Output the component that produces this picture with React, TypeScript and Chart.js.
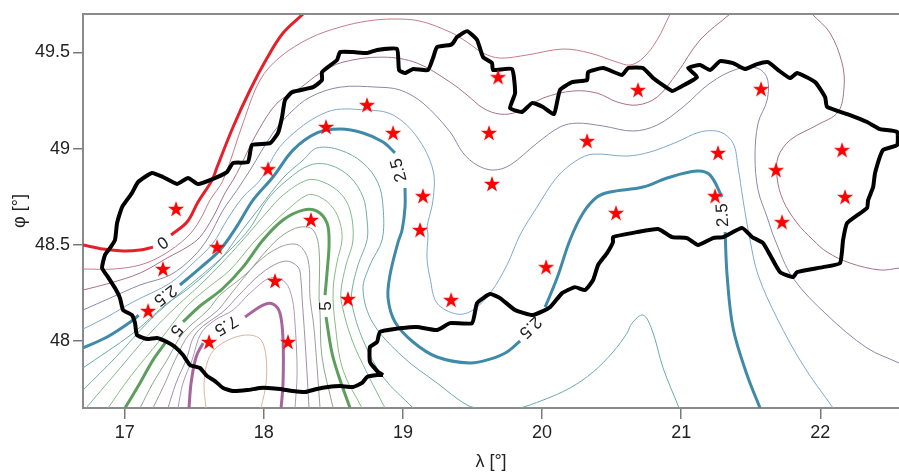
import React, { useEffect, useRef } from "react";
import { Chart, registerables } from "chart.js";

Chart.register(...registerables);

type P = [number, number];

const xTicksStep = 1;
const yTicksStep = 0.5;
const lonRange = [16.7, 22.566];
const latRange = [47.652, 49.699];

const level0a: P[] = [[16.7,48.499],[16.844,48.478],[16.988,48.468],[17.11,48.473],[17.203,48.488]];
const level0b: P[] = [[17.333,48.551],[17.448,48.618],[17.527,48.722],[17.628,48.836],[17.664,48.904],[17.779,49.112],[17.901,49.304],[18.023,49.47],[18.138,49.6],[18.282,49.699]];
const level05: P[] = [[16.7,48.374],[16.916,48.374],[17.11,48.395],[17.275,48.447],[17.448,48.54],[17.541,48.629],[17.613,48.732],[17.707,48.836],[17.85,49.132],[17.973,49.356],[18.116,49.475],[18.332,49.574],[18.548,49.631],[18.742,49.662],[18.929,49.673],[19.123,49.662],[19.339,49.605],[19.461,49.553],[19.576,49.496],[19.698,49.47],[19.892,49.486],[20.151,49.517],[20.345,49.496],[20.539,49.449],[20.633,49.434],[20.726,49.47],[20.827,49.564],[20.92,49.699]];
const level1a: P[] = [[16.7,48.265],[16.894,48.301],[17.11,48.353],[17.304,48.431],[17.448,48.488],[17.541,48.54],[17.635,48.644],[17.721,48.769],[17.779,48.836],[17.829,48.904],[17.951,49.081],[18.095,49.236],[18.26,49.314],[18.404,49.392],[18.569,49.449],[18.857,49.475],[19.101,49.444],[19.339,49.345],[19.461,49.278],[19.576,49.21],[19.698,49.179],[19.82,49.19],[20.007,49.262],[20.223,49.299],[20.395,49.288],[20.539,49.242],[20.683,49.226],[20.827,49.267],[20.97,49.392],[21.136,49.564],[21.351,49.699]];
const level1b: P[] = [[21.941,49.699],[22.07,49.6],[22.157,49.444],[22.171,49.319],[22.128,49.19],[21.977,49.122],[21.783,49.044],[21.697,48.956],[21.689,48.852],[21.732,48.732],[21.833,48.613],[21.948,48.525],[22.049,48.462],[22.214,48.405],[22.43,48.369],[22.566,48.379]];
const level15: P[] = [[16.7,48.161],[16.894,48.223],[17.11,48.291],[17.326,48.343],[17.491,48.436],[17.599,48.535],[17.707,48.68],[17.807,48.784],[17.901,48.888],[18.066,49.081],[18.188,49.184],[18.332,49.267],[18.548,49.319],[18.814,49.319],[18.979,49.304],[19.144,49.236],[19.339,49.086],[19.432,48.977],[19.533,48.914],[19.648,48.888],[19.77,48.914],[19.964,49.028],[20.129,49.112],[20.252,49.132],[20.439,49.117],[20.654,49.091],[20.827,49.122],[21.014,49.216],[21.208,49.34],[21.402,49.413],[21.546,49.418],[21.618,49.366],[21.618,49.252],[21.553,49.132],[21.531,48.956],[21.553,48.784],[21.618,48.644],[21.675,48.525],[21.804,48.327],[22.049,48.135],[22.336,47.964],[22.566,47.886]];
const level2: P[] = [[16.7,48.062],[16.873,48.125],[17.06,48.203],[17.326,48.301],[17.491,48.405],[17.635,48.509],[17.735,48.629],[17.85,48.748],[17.973,48.836],[18.138,49.028],[18.454,49.19],[18.742,49.2],[18.929,49.174],[19.101,49.06],[19.216,48.888],[19.216,48.732],[19.173,48.592],[19.18,48.551],[19.173,48.431],[19.195,48.327],[19.245,48.197],[19.389,48.14],[19.504,48.161],[19.633,48.255],[19.748,48.395],[19.842,48.551],[19.964,48.696],[20.108,48.852],[20.252,48.94],[20.367,48.971],[20.611,48.961],[20.776,48.982],[20.97,49.034],[21.136,49.086],[21.28,49.086],[21.373,49.028],[21.409,48.904],[21.445,48.732],[21.495,48.525],[21.553,48.343],[21.689,48.119],[21.876,47.875],[22.092,47.652]];
const level25a: P[] = [[16.7,47.964],[16.873,48.021],[17.06,48.109],[17.1,48.135]];
const level25b: P[] = [[17.397,48.291],[17.541,48.379],[17.685,48.473],[17.807,48.597],[17.922,48.732],[18.066,48.852],[18.21,48.992],[18.382,49.081],[18.548,49.101],[18.713,49.081],[18.857,49.034],[18.943,48.977]];
const level25c: P[] = [[19.015,48.795],[19.015,48.696],[18.994,48.577],[18.965,48.514],[18.907,48.343],[18.893,48.223],[18.943,48.099],[19.073,47.995],[19.245,47.917],[19.482,47.886],[19.626,47.906],[19.748,47.943],[19.842,48.0]];
const level25d: P[] = [[20.022,48.176],[20.108,48.327],[20.201,48.525],[20.295,48.665],[20.395,48.748],[20.489,48.774],[20.726,48.8],[20.899,48.847],[21.114,48.883],[21.208,48.862],[21.294,48.748]];
const level25e: P[] = [[21.316,48.566],[21.33,48.343],[21.373,48.068],[21.474,47.823],[21.567,47.652]];
const level3: P[] = [[16.7,47.86],[17.06,48.041],[17.29,48.187],[17.47,48.28],[17.685,48.421],[17.829,48.561],[17.973,48.696],[18.138,48.847],[18.282,48.94],[18.382,49.003],[18.548,48.992],[18.713,48.925],[18.821,48.821],[18.857,48.696],[18.85,48.525],[18.763,48.395],[18.713,48.265],[18.785,48.093],[19.001,47.917],[19.245,47.782],[19.461,47.667],[19.576,47.647],[19.698,47.631],[19.82,47.647],[20.007,47.693],[20.201,47.756],[20.367,47.839],[20.51,47.943],[20.611,48.041],[20.647,48.093],[20.726,48.135],[20.791,48.057],[20.87,47.86],[20.985,47.652]];
const level35: P[] = [[16.7,47.745],[16.937,47.917],[17.182,48.109],[17.398,48.249],[17.613,48.379],[17.757,48.473],[17.901,48.587],[18.023,48.732],[18.167,48.836],[18.332,48.914],[18.476,48.914],[18.62,48.852],[18.713,48.748],[18.742,48.629],[18.742,48.525],[18.677,48.395],[18.634,48.265],[18.634,48.187],[18.713,48.005],[18.857,47.813],[19.073,47.652]];
const level4: P[] = [[16.722,47.652],[16.937,47.834],[17.182,48.041],[17.383,48.187],[17.541,48.291],[17.685,48.395],[17.85,48.525],[18.023,48.67],[18.138,48.758],[18.311,48.836],[18.426,48.826],[18.548,48.769],[18.62,48.68],[18.641,48.525],[18.591,48.395],[18.555,48.265],[18.562,48.187],[18.634,48.005],[18.742,47.834],[18.871,47.652]];
const level45: P[] = [[16.88,47.652],[17.038,47.813],[17.254,48.005],[17.441,48.176],[17.577,48.265],[17.757,48.369],[17.922,48.509],[18.066,48.613],[18.167,48.68],[18.311,48.758],[18.404,48.748],[18.498,48.691],[18.548,48.613],[18.562,48.525],[18.526,48.41],[18.498,48.265],[18.512,48.093],[18.569,47.849],[18.706,47.652]];
const level5a: P[] = [[17.002,47.652],[17.11,47.782],[17.203,47.901],[17.297,47.995]];
const level5b: P[] = [[17.419,48.099],[17.541,48.182],[17.699,48.269],[17.85,48.384],[17.994,48.525],[18.138,48.629],[18.282,48.68],[18.382,48.675],[18.454,48.613],[18.469,48.509],[18.454,48.353],[18.44,48.239]];
const level5c: P[] = [[18.447,48.125],[18.49,47.938],[18.548,47.797],[18.62,47.652]];
const level55: P[] = [[17.11,47.652],[17.203,47.782],[17.304,47.901],[17.419,48.041],[17.599,48.161],[17.685,48.239],[17.879,48.353],[18.023,48.473],[18.138,48.551],[18.26,48.592],[18.354,48.577],[18.397,48.473],[18.397,48.223],[18.404,48.145],[18.418,47.917],[18.498,47.652]];
const level6: P[] = [[17.203,47.652],[17.29,47.782],[17.362,47.901],[17.47,48.041],[17.671,48.161],[17.757,48.239],[17.951,48.405],[18.116,48.488],[18.246,48.499],[18.318,48.421],[18.332,48.223],[18.354,48.109],[18.368,48.005],[18.404,47.652]];
const level65: P[] = [[17.311,47.652],[17.369,47.782],[17.441,47.901],[17.513,48.041],[17.721,48.161],[17.807,48.228],[17.994,48.358],[18.152,48.415],[18.246,48.384],[18.267,48.317],[18.275,48.223],[18.296,48.005],[18.325,47.652]];
const level7: P[] = [[17.383,47.652],[17.419,47.782],[17.484,47.901],[17.549,48.041],[17.649,48.109],[17.779,48.161],[17.901,48.249],[18.045,48.327],[18.152,48.306],[18.203,48.223],[18.224,48.093],[18.239,47.834],[18.224,47.652]];
const level75a: P[] = [[17.462,47.652],[17.477,47.782],[17.513,47.917],[17.563,47.989]];
const level75b: P[] = [[17.865,48.125],[17.994,48.187],[18.066,48.192],[18.116,48.145],[18.138,48.005],[18.138,47.782],[18.124,47.652]];
const level8: P[] = [[17.584,47.652],[17.57,47.782],[17.599,47.901],[17.656,47.964],[17.779,48.016],[17.901,48.031],[17.98,48.005],[18.016,47.917],[18.016,47.782],[17.98,47.652]];

const border: P[] = [[18.857,47.823],[18.814,47.823],[18.742,47.813],[18.706,47.782],[18.641,47.761],[18.548,47.766],[18.462,47.761],[18.382,47.751],[18.296,47.735],[18.21,47.74],[18.116,47.751],[18.03,47.756],[17.973,47.756],[17.879,47.745],[17.779,47.74],[17.707,47.756],[17.649,47.792],[17.592,47.818],[17.541,47.86],[17.47,47.875],[17.419,47.927],[17.362,47.969],[17.304,47.995],[17.232,48.016],[17.16,48.01],[17.088,48.031],[17.074,48.093],[17.052,48.135],[16.988,48.161],[16.966,48.223],[16.93,48.275],[16.88,48.332],[16.837,48.379],[16.858,48.447],[16.894,48.483],[16.93,48.525],[16.945,48.613],[16.981,48.696],[17.052,48.769],[17.096,48.826],[17.196,48.873],[17.275,48.852],[17.376,48.816],[17.455,48.847],[17.527,48.816],[17.613,48.836],[17.735,48.878],[17.779,48.925],[17.886,48.93],[17.915,49.018],[18.045,49.028],[18.102,49.081],[18.131,49.164],[18.152,49.252],[18.203,49.293],[18.354,49.319],[18.418,49.356],[18.418,49.397],[18.526,49.46],[18.548,49.501],[18.641,49.501],[18.742,49.496],[18.814,49.512],[18.957,49.517],[18.972,49.408],[19.015,49.392],[19.073,49.413],[19.18,49.408],[19.216,49.47],[19.245,49.527],[19.339,49.538],[19.36,49.548],[19.389,49.579],[19.461,49.61],[19.533,49.564],[19.576,49.475],[19.64,49.444],[19.648,49.408],[19.784,49.413],[19.806,49.288],[19.77,49.21],[19.856,49.19],[19.928,49.236],[20.007,49.216],[20.086,49.179],[20.129,49.304],[20.216,49.345],[20.324,49.356],[20.331,49.397],[20.439,49.418],[20.575,49.382],[20.618,49.418],[20.726,49.418],[20.798,49.366],[20.848,49.34],[20.935,49.299],[20.992,49.319],[21.114,49.371],[21.05,49.418],[21.136,49.434],[21.208,49.408],[21.28,49.454],[21.373,49.444],[21.459,49.413],[21.546,49.439],[21.625,49.449],[21.697,49.408],[21.783,49.366],[21.833,49.392],[21.963,49.345],[22.035,49.267],[22.049,49.216],[22.214,49.174],[22.336,49.138],[22.43,49.101],[22.552,49.086],[22.552,49.018],[22.451,48.992],[22.394,48.873],[22.38,48.8],[22.344,48.732],[22.336,48.691],[22.193,48.613],[22.164,48.525],[22.142,48.405],[22.02,48.384],[21.833,48.358],[21.804,48.332],[21.711,48.358],[21.639,48.447],[21.589,48.509],[21.51,48.54],[21.438,48.587],[21.301,48.54],[21.229,48.535],[21.121,48.499],[21.042,48.535],[20.935,48.54],[20.834,48.582],[20.683,48.566],[20.51,48.54],[20.51,48.514],[20.467,48.457],[20.403,48.395],[20.367,48.317],[20.309,48.265],[20.237,48.28],[20.144,48.249],[20.058,48.176],[19.935,48.135],[19.806,48.161],[19.698,48.223],[19.626,48.244],[19.533,48.197],[19.497,48.093],[19.339,48.093],[19.245,48.057],[19.101,48.073],[19.001,48.068],[18.835,48.047],[18.814,47.995],[18.763,47.969],[18.763,47.891],[18.821,47.839],[18.857,47.823]];

const stations: P[] = [[17.369,48.686],[17.664,48.488],[17.275,48.374],[17.168,48.156],[17.606,47.995],[18.174,47.995],[18.08,48.312],[18.339,48.629],[18.03,48.893],[18.447,49.112],[18.742,49.226],[18.929,49.081],[19.144,48.753],[19.123,48.577],[18.605,48.218],[19.346,48.213],[19.64,48.816],[19.619,49.081],[19.684,49.371],[20.69,49.304],[20.324,49.039],[20.532,48.665],[21.265,48.977],[21.244,48.753],[21.574,49.309],[21.682,48.888],[21.725,48.618],[22.157,48.992],[22.178,48.748],[20.029,48.384]];

const labelTexts = ["0", "2.5", "5", "7.5", "5", "2.5", "2.5", "2.5"];
const labelLon = [17.268, 17.29, 17.369, 17.728, 18.447, 18.972, 19.914, 21.301];
const labelLat = [48.514, 48.239, 48.057, 48.083, 48.182, 48.888, 48.073, 48.654];
const labelAngle = [145, 143, 130, 150, -90, -105, 137, -93];

const contourLines: [P[], string, number][] = [
  [level0a, "#e6202a", 3], [level0b, "#e6202a", 3],
  [level05, "#c97a88", 1], [level1a, "#a8708a", 1], [level1b, "#a8708a", 1],
  [level15, "#8f85ab", 1], [level2, "#7fa8d0", 1],
  [level25a, "#3f8aa8", 3], [level25b, "#3f8aa8", 3], [level25c, "#3f8aa8", 3], [level25d, "#3f8aa8", 3], [level25e, "#3f8aa8", 3],
  [level3, "#6aa9ad", 1], [level35, "#74b09a", 1], [level4, "#80b98c", 1], [level45, "#86bc82", 1],
  [level5a, "#5c9e5c", 3], [level5b, "#5c9e5c", 3], [level5c, "#5c9e5c", 3],
  [level55, "#8fa58f", 1], [level6, "#9d9d9d", 1], [level65, "#a090a8", 1], [level7, "#b394c0", 1],
  [level75a, "#a8659c", 3], [level75b, "#a8659c", 3], [level8, "#d9b49c", 1],
];

const FONT = "'Liberation Sans', Arial, sans-serif";

function starImage(): HTMLCanvasElement {
  const c = document.createElement("canvas");
  c.width = 18;
  c.height = 18;
  const g = c.getContext("2d")!;
  g.fillStyle = "#ff0000";
  g.beginPath();
  for (let i = 0; i < 10; i++) {
    const r = i % 2 === 0 ? 8.5 : 3.3;
    const a = -Math.PI / 2 + (i * Math.PI) / 5;
    const x = 9 + r * Math.cos(a);
    const y = 9.5 + r * Math.sin(a);
    if (i === 0) g.moveTo(x, y);
    else g.lineTo(x, y);
  }
  g.closePath();
  g.fill();
  return c;
}

const framePlugin = {
  id: "frameAndLabels",
  afterDatasetsDraw(chart: any) {
    const { ctx, chartArea, scales } = chart;
    ctx.save();
    ctx.strokeStyle = "#8a8a8a";
    ctx.lineWidth = 2;
    ctx.beginPath();
    ctx.moveTo(chartArea.left, chartArea.top);
    ctx.lineTo(chartArea.right, chartArea.top);
    ctx.stroke();
    ctx.fillStyle = "#222222";
    ctx.font = `17px ${FONT}`;
    ctx.textAlign = "center";
    ctx.textBaseline = "middle";
    labelTexts.forEach((t, i) => {
      ctx.save();
      ctx.translate(scales.x.getPixelForValue(labelLon[i]), scales.y.getPixelForValue(labelLat[i]));
      ctx.rotate((labelAngle[i] * Math.PI) / 180);
      ctx.fillText(t, 0, 0);
      ctx.restore();
    });
    ctx.restore();
  },
};

const toXY = (pts: P[]) => pts.map(([x, y]) => ({ x, y }));

export default function App() {
  const ref = useRef<HTMLCanvasElement>(null);
  useEffect(() => {
    const star = starImage();
    const datasets: any[] = contourLines.map(([pts, color, width]) => ({
      data: toXY(pts),
      showLine: true,
      borderColor: color,
      borderWidth: width,
      pointRadius: 0,
      tension: 0.35,
      borderCapStyle: "butt",
      order: 3,
    }));
    datasets.push({
      data: toXY(border),
      showLine: true,
      borderColor: "#000000",
      borderWidth: 4,
      pointRadius: 0,
      tension: 0.15,
      borderJoinStyle: "round",
      order: 2,
    });
    datasets.push({
      data: toXY(stations),
      showLine: false,
      pointStyle: star,
      pointRadius: 8,
      order: 1,
    });
    const chart = new Chart(ref.current!, {
      type: "scatter",
      data: { datasets },
      plugins: [framePlugin],
      options: {
        animation: false,
        responsive: false,
        layout: { autoPadding: false, padding: { top: 14, right: 0, left: 0, bottom: 0 } },
        plugins: { legend: { display: false }, tooltip: { enabled: false } },
        scales: {
          x: {
            type: "linear",
            min: lonRange[0],
            max: lonRange[1],
            afterFit: (s: any) => { s.height = 67; s.paddingLeft = 0; s.paddingRight = 0; },
            border: { display: true, color: "#8a8a8a", width: 2 },
            grid: { drawOnChartArea: false, drawTicks: true, tickLength: 11, color: "#7a7a7a", lineWidth: 1.5 },
            ticks: { stepSize: xTicksStep, includeBounds: false, color: "#222222", font: { family: FONT, size: 18 }, padding: 3, maxRotation: 0 },
            title: { display: true, text: "λ [°]", color: "#222222", font: { family: FONT, size: 18 }, padding: { top: 0, bottom: 2 } },
          },
          y: {
            type: "linear",
            min: latRange[0],
            max: latRange[1],
            afterFit: (s: any) => { s.width = 83; s.paddingTop = 0; s.paddingBottom = 0; },
            border: { display: true, color: "#8a8a8a", width: 2 },
            grid: { drawOnChartArea: false, drawTicks: true, tickLength: 10, color: "#7a7a7a", lineWidth: 1.5 },
            ticks: { stepSize: yTicksStep, includeBounds: false, color: "#222222", font: { family: FONT, size: 18 }, padding: 3, callback: (v: any) => String(v) },
            title: { display: true, text: "φ [°]", color: "#222222", font: { family: FONT, size: 18 }, padding: { top: 9, bottom: 0 } },
          },
        },
      },
    });
    return () => chart.destroy();
  }, []);
  return (
    <div style={{ position: "fixed", left: 0, top: 0, width: 899, height: 475, background: "#fff" }}>
      <canvas ref={ref} width={899} height={475} />
    </div>
  );
}
